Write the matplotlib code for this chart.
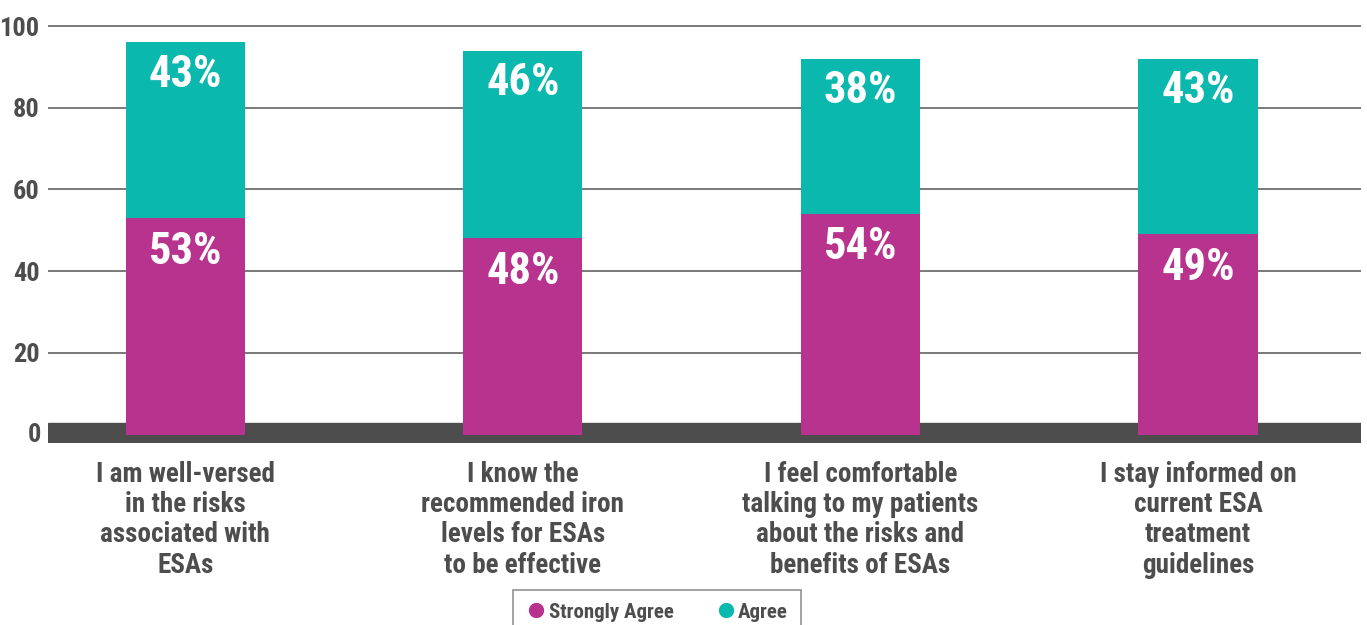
import matplotlib
matplotlib.use("Agg")
import matplotlib.pyplot as plt
from matplotlib import font_manager
from matplotlib.lines import Line2D

# pick a narrow bold face if one is installed
names = {f.name for f in font_manager.fontManager.ttflist}
font = "DejaVu Sans"
for cand in ["Liberation Sans Narrow", "DejaVu Sans Condensed", "Roboto Condensed", "Open Sans Condensed"]:
    if cand in names:
        font = cand
        break
stretch = "condensed" if font == "DejaVu Sans" else "normal"
plt.rcParams["font.family"] = [font, "DejaVu Sans"]

categories = [
    "I am well-versed\nin the risks\nassociated with\nESAs",
    "I know the\nrecommended iron\nlevels for ESAs\nto be effective",
    "I feel comfortable\ntalking to my patients\nabout the risks and\nbenefits of ESAs",
    "I stay informed on\ncurrent ESA\ntreatment\nguidelines",
]
strongly_agree = [53, 48, 54, 49]
agree = [43, 46, 38, 43]
yticks = [0, 20, 40, 60, 80, 100]

magenta = "#B8338D"
teal = "#0BB8AE"
grey = "#4D4D4D"

fig = plt.figure(figsize=(13.67, 6.25), dpi=100)
ax = fig.add_axes([48 / 1367, 0.2917, 1313 / 1367, 0.6928])

x = list(range(len(categories)))
w = 0.353
ax.bar(x, strongly_agree, width=w, color=magenta, zorder=3)
ax.bar(x, agree, width=w, bottom=strongly_agree, color=teal, zorder=3)

for i in x:
    ax.text(i, strongly_agree[i] - 8.2, f"{strongly_agree[i]}%", ha="center", va="center",
            color="white", fontsize=32, fontweight="bold", stretch=stretch, zorder=4)
    ax.text(i, strongly_agree[i] + agree[i] - 8.0, f"{agree[i]}%", ha="center", va="center",
            color="white", fontsize=32, fontweight="bold", stretch=stretch, zorder=4)

# thick dark baseline
ax.axhspan(-1.9, 2.7, color=grey, zorder=2)

ax.set_xlim(-0.407, 3.483)
ax.set_ylim(-2, 104)
ax.set_yticks(yticks[1:])
ax.yaxis.grid(True, color="#555555", linewidth=1.1, zorder=1)
for s in ax.spines.values():
    s.set_visible(False)
ax.tick_params(axis="both", length=0)
ax.set_yticklabels([str(t) for t in yticks[1:]], fontsize=19, fontweight="bold",
                   color=grey, stretch=stretch)
ax.tick_params(axis="y", pad=6)
ax.text(-0.428, 0, "0", ha="right", va="center", fontsize=19, fontweight="bold",
        color=grey, stretch=stretch)
ax.set_xticks(x)
ax.set_xticklabels([])
for i in x:
    ax.text(i, -6.4, categories[i], ha="center", va="top", fontsize=19.5, fontweight="bold",
            color=grey, linespacing=1.16, stretch=stretch)

handles = [
    Line2D([], [], marker="o", linestyle="", markersize=10, color=magenta, label="Strongly Agree"),
    Line2D([], [], marker="o", linestyle="", markersize=10, color=teal, label="Agree"),
]
leg = fig.legend(handles=handles, loc="upper center", bbox_to_anchor=(657 / 1367, 1 - 590 / 625),
                 ncol=2, frameon=True, fancybox=False, handletextpad=0.1, columnspacing=2.0,
                 prop={"family": [font, "DejaVu Sans"], "weight": "bold", "size": 15, "stretch": stretch},
                 borderpad=0.6, handlelength=1.0, borderaxespad=0)
leg.get_frame().set_edgecolor("#777777")
leg.get_frame().set_linewidth(1.2)
for t in leg.get_texts():
    t.set_color(grey)

fig.savefig("out.png", dpi=100)
